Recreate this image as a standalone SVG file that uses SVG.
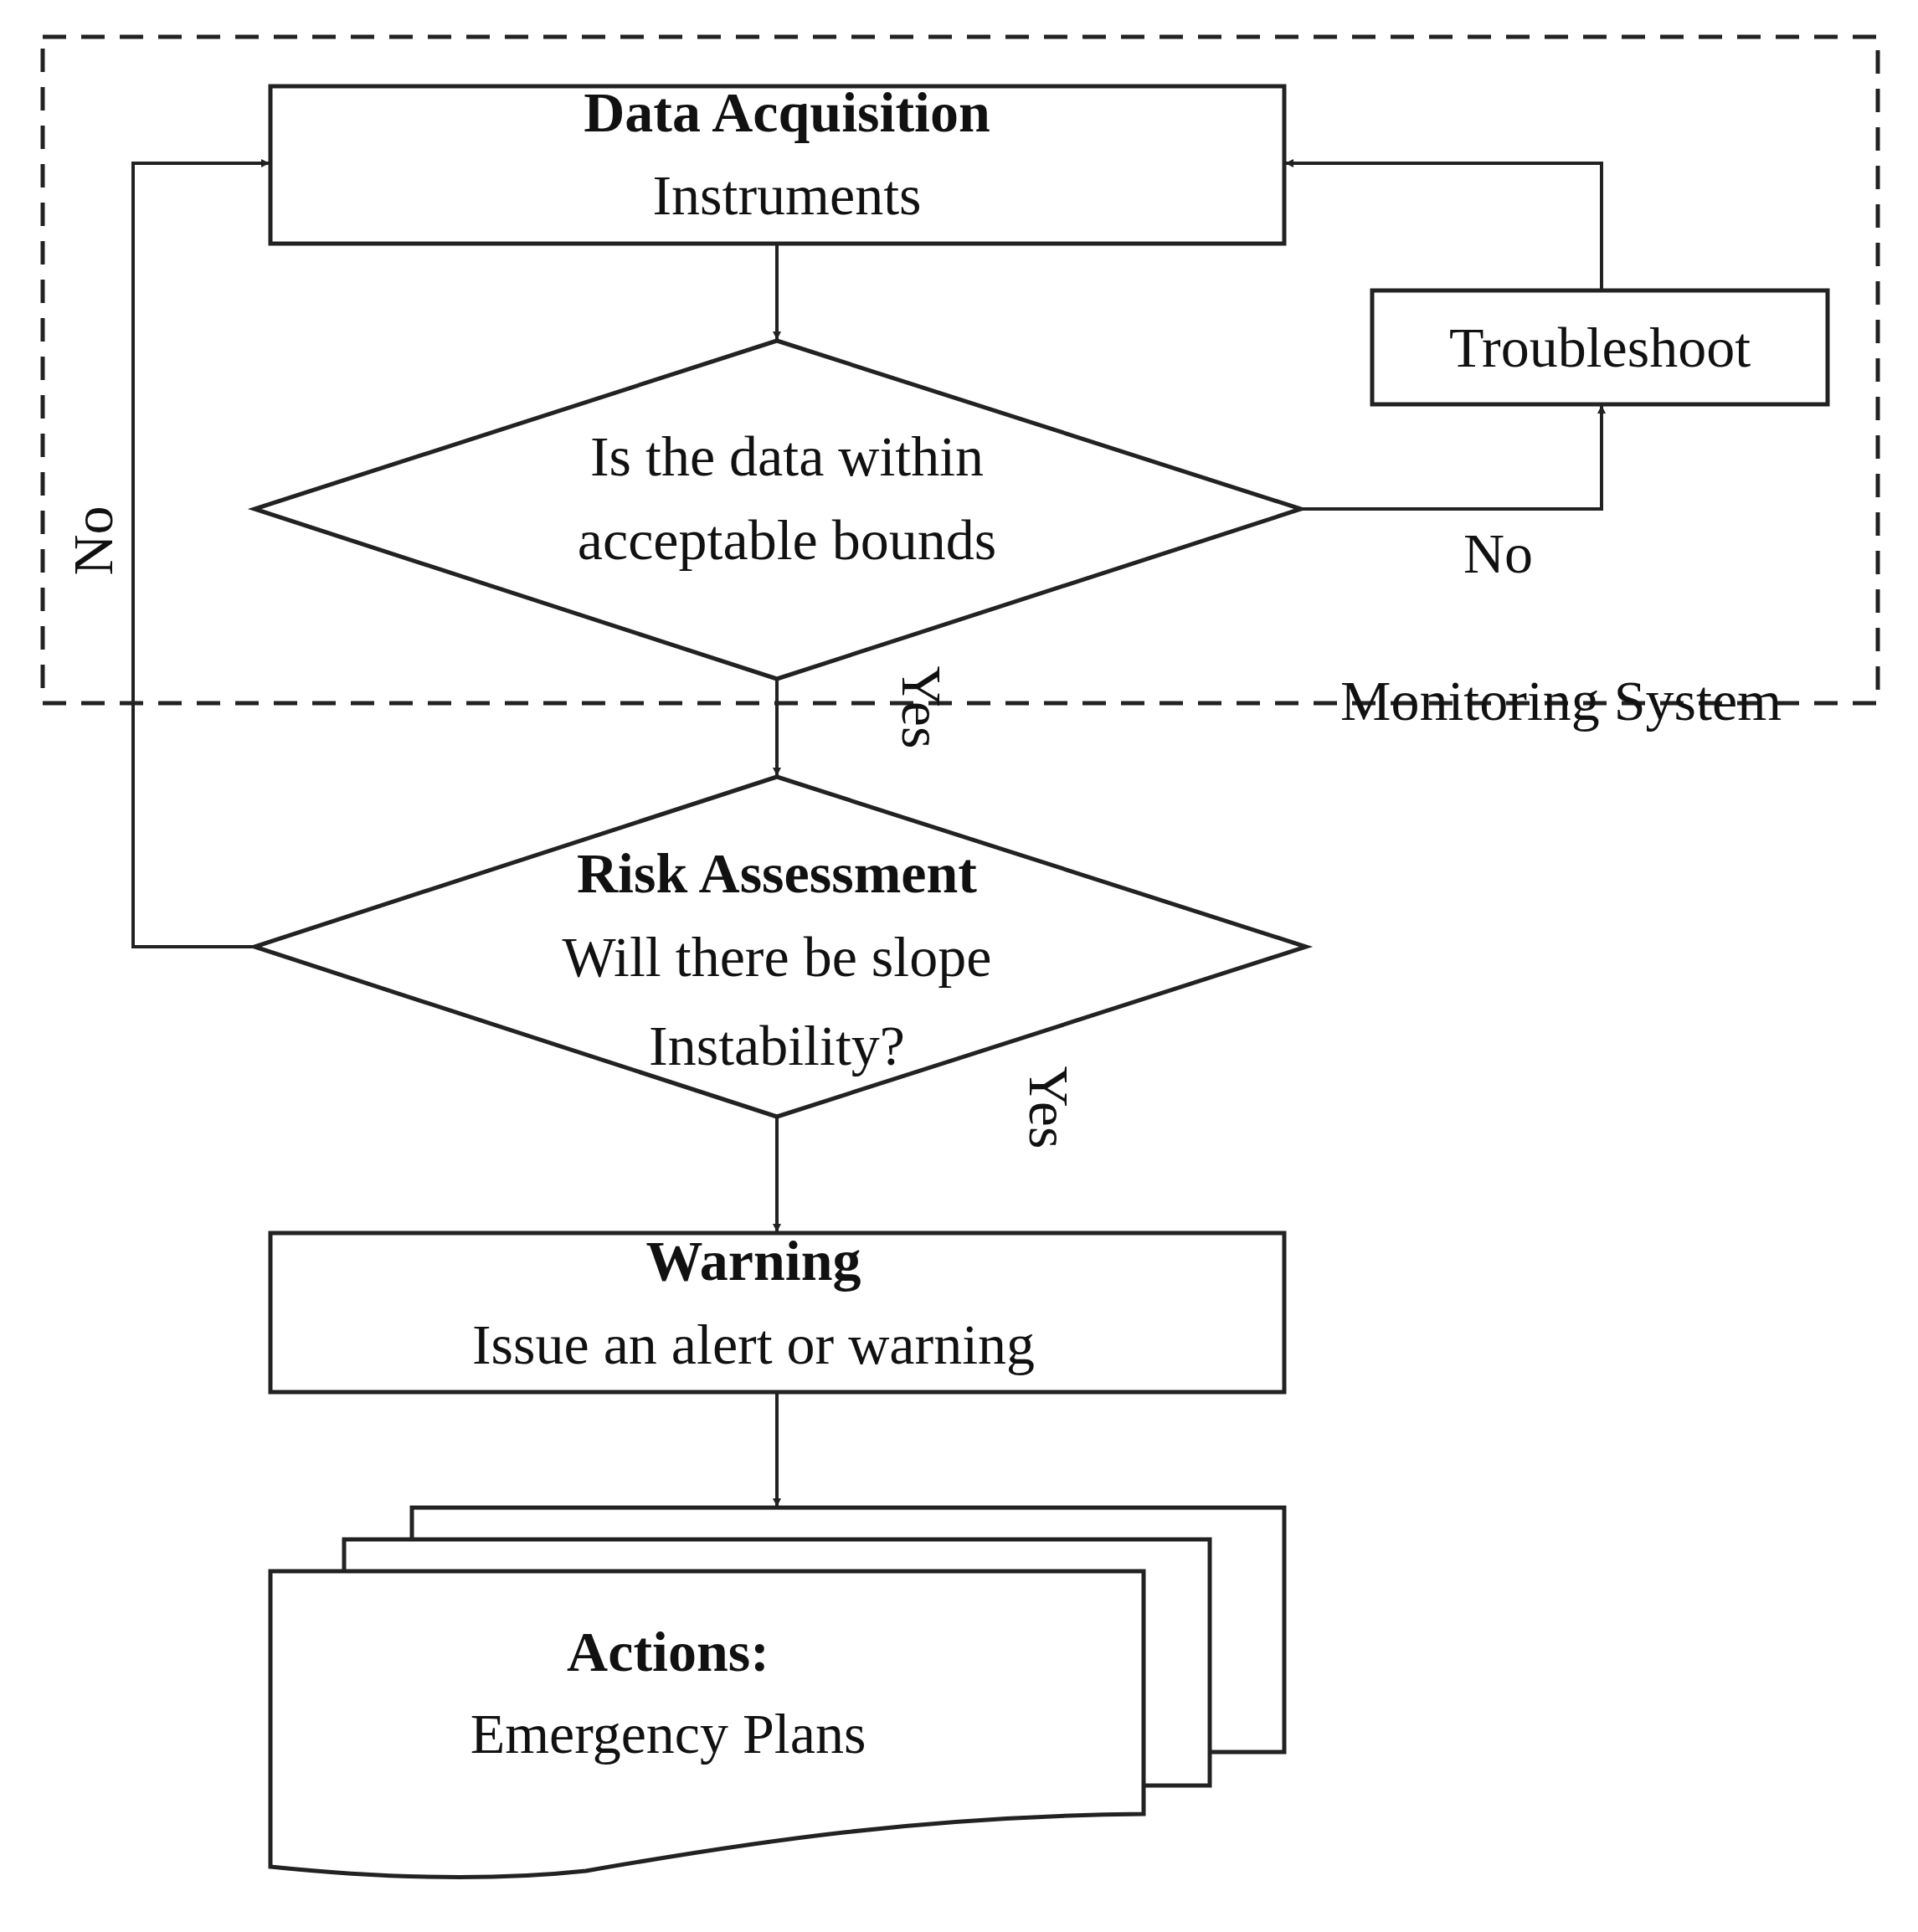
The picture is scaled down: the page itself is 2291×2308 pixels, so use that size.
<svg xmlns="http://www.w3.org/2000/svg" width="2291" height="2308" viewBox="0 0 2291 2308">
<style>
.s{fill:#fff;stroke:#222;stroke-width:5}
.c{fill:none;stroke:#222;stroke-width:4}
text{font-family:"Liberation Serif","Times New Roman",serif;font-size:68px;fill:#111}
.b{font-weight:bold}
.m{text-anchor:middle}
</style>
<defs><marker id="a" markerWidth="10" markerHeight="10" refX="9" refY="5" orient="auto" markerUnits="userSpaceOnUse"><path d="M0,0 L10,5 L0,10 z" fill="#222"/></marker></defs>
<rect x="0" y="0" width="2291" height="2308" fill="#fff"/>
<g id="monitoring"><rect x="51" y="44" width="2192" height="796" fill="none" stroke="#222" stroke-width="5" stroke-dasharray="28,18"/>
<text x="1601" y="860">Monitoring System</text></g>
<g id="connectors">
<path class="c" d="M928,291 V405" marker-end="url(#a)"/>
<path class="c" d="M928,811 V926" marker-end="url(#a)"/>
<path class="c" d="M928,1334 V1471" marker-end="url(#a)"/>
<path class="c" d="M928,1663 V1799" marker-end="url(#a)"/>
<path class="c" d="M304,1131 H159 V195 H321" marker-end="url(#a)"/>
<path class="c" d="M1554,608 H1913 V485" marker-end="url(#a)"/>
<path class="c" d="M1913,347 V195 H1536" marker-end="url(#a)"/>
<text x="1748" y="684">No</text>
<text transform="translate(134,646) rotate(-90)" class="m">No</text>
<text transform="translate(1078,845) rotate(90)" class="m">Yes</text>
<text transform="translate(1230,1323) rotate(90)" class="m">Yes</text>
</g>
<g id="data"><rect class="s" x="323" y="103" width="1211" height="188"/>
<text x="940" y="157" class="m b">Data Acquisition</text><text x="940" y="256" class="m">Instruments</text></g>
<g id="trouble"><rect class="s" x="1639" y="347" width="544" height="136"/>
<text x="1911" y="438" class="m">Troubleshoot</text></g>
<g id="check"><path class="s" d="M928,407 L1554,608 L928,811 L304,608 z"/>
<text x="940" y="568" class="m">Is the data within</text><text x="940" y="668" class="m">acceptable bounds</text></g>
<g id="risk"><path class="s" d="M928,928 L1560,1131 L928,1334 L304,1131 z"/>
<text x="928" y="1066" class="m b">Risk Assessment</text><text x="928" y="1166" class="m">Will there be slope</text><text x="928" y="1272" class="m">Instability?</text></g>
<g id="warning"><rect class="s" x="323" y="1473" width="1211" height="190"/>
<text x="900" y="1529" class="m b">Warning</text><text x="900" y="1629" class="m">Issue an alert or warning</text></g>
<g id="actions">
<path class="s" d="M492,1801 H1534 V2093 H492 z"/>
<path class="s" d="M411,1839 H1445 V2133 H411 z"/>
<path class="s" d="M323,1877 H1366 V2167 C1100,2170 900,2200 700,2235 C560,2250 420,2240 323,2230 z"/>
<text x="798" y="1996" class="m b">Actions:</text><text x="798" y="2094" class="m">Emergency Plans</text></g>
</svg>
